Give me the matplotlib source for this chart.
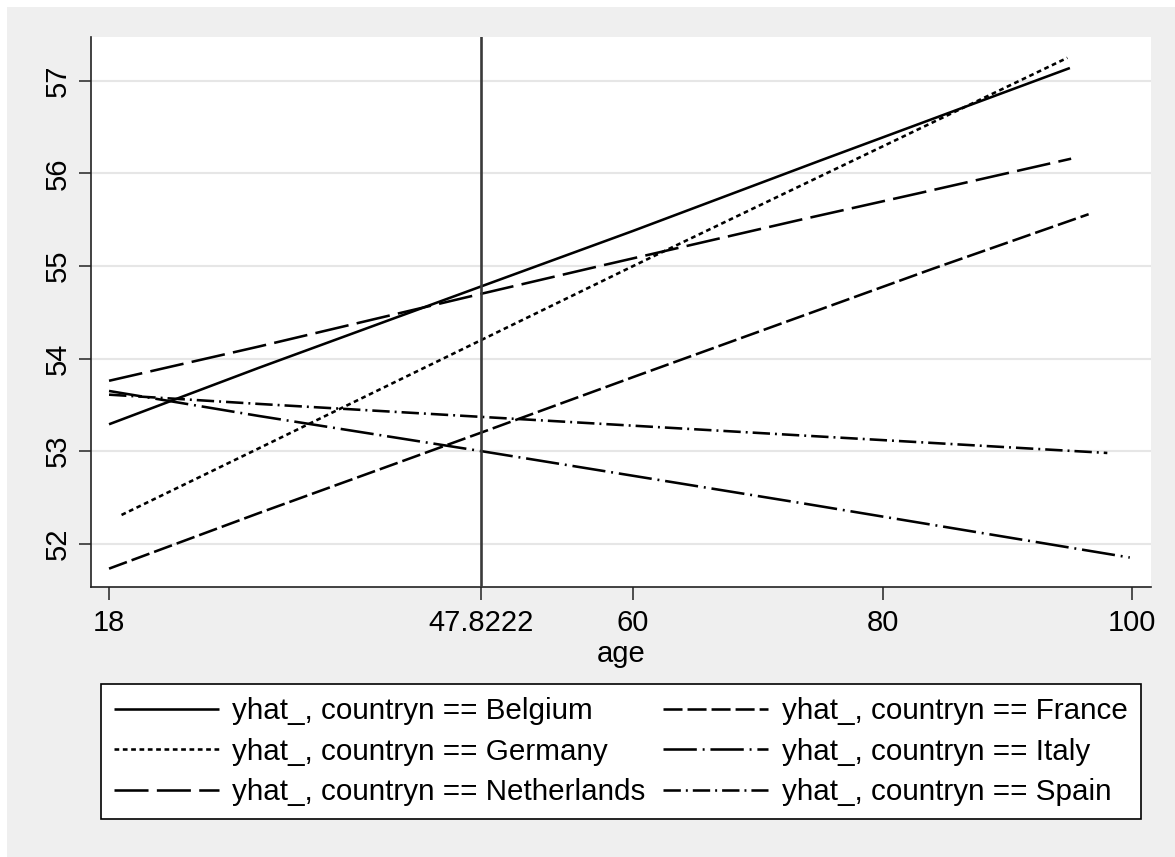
import matplotlib
matplotlib.use("Agg")
import matplotlib.pyplot as plt
from matplotlib.patches import Rectangle

plt.rcParams["font.family"] = ["Liberation Sans", "DejaVu Sans"]
plt.rcParams["lines.scale_dashes"] = False

# valeurs (yhat_ par pays selon l'âge)
countries = ["Belgium", "France", "Germany", "Italy", "Netherlands", "Spain"]

age_belgium = [18, 30, 47.8222, 60, 75, 95]
yhat_belgium = [53.29, 53.90, 54.78, 55.38, 56.14, 57.14]

age_france = [18, 30, 47.8222, 60, 84, 96.5]
yhat_france = [51.73, 52.33, 53.20, 53.80, 54.97, 55.56]

age_germany = [19, 30, 47.8222, 60, 75, 94.8]
yhat_germany = [52.31, 53.03, 54.20, 55.00, 55.97, 57.25]

age_italy = [18, 30, 45, 47.8222, 73.4, 99.8]
yhat_italy = [53.65, 53.38, 53.06, 53.00, 52.44, 51.85]

age_netherlands = [18, 30, 47.8222, 57, 73.4, 83, 95.1]
yhat_netherlands = [53.76, 54.13, 54.70, 54.99, 55.50, 55.79, 56.16]

age_spain = [18, 30, 47.8222, 73.4, 98]
yhat_spain = [53.61, 53.51, 53.37, 53.17, 52.98]

mean_age = 47.8222
xticks = [18, 47.8222, 60, 80, 100]
xtick_labels = ["18", "47.8222", "60", "80", "100"]
yticks = [52, 53, 54, 55, 56, 57]

series = [
    (age_belgium, yhat_belgium, "-"),
    (age_france, yhat_france, (0, (13.7, 3.6))),
    (age_germany, yhat_germany, (0, (3.4, 2.6))),
    (age_italy, yhat_italy, (0, (24, 4.2, 1.4, 4.2))),
    (age_netherlands, yhat_netherlands, (0, (24.5, 6))),
    (age_spain, yhat_spain, (0, (12.5, 3.6, 1.4, 3.6))),
]

fig = plt.figure(figsize=(11.75, 8.57), dpi=100, facecolor="white")
fig.patches.append(Rectangle((7 / 1175, 0), 1, 1 - 7 / 857, transform=fig.transFigure,
                             facecolor="#efefef", edgecolor="none", zorder=-10))

ax = fig.add_axes([90.7 / 1175, 1 - 586.5 / 857, (1151 - 90.7) / 1175, (586.5 - 37) / 857])
ax.set_facecolor("white")

for y in yticks:
    ax.axhline(y, color="#e6e6e6", linewidth=1.5, zorder=0)

handles = []
for (ages, vals, ls), name in zip(series, countries):
    h, = ax.plot(ages, vals, color="black", linewidth=1.85, linestyle=ls,
                 solid_capstyle="butt", dash_capstyle="butt",
                 label=f"yhat_, countryn == {name}")
    handles.append(h)

ax.axvline(mean_age, color="#3a3a3a", linewidth=1.9, zorder=3)

ax.set_xlim(16.53, 101.5)
ax.set_ylim(51.537, 57.475)
ax.set_xticks(xticks)
ax.set_xticklabels(xtick_labels)
ax.set_yticks(yticks)
ax.set_yticklabels([str(v) for v in yticks], rotation=90, va="center")
ax.tick_params(axis="both", labelsize=21, length=9, width=1.1, color="#222222")
ax.tick_params(axis="x", pad=7.5)
ax.tick_params(axis="y", pad=4.5)
ax.set_xlabel("age", fontsize=21, labelpad=1.5)

for side in ["top", "right"]:
    ax.spines[side].set_visible(False)
for side in ["left", "bottom"]:
    ax.spines[side].set_linewidth(1.2)
    ax.spines[side].set_color("#222222")

# légende remplie ligne par ligne comme dans Stata
order = [0, 2, 4, 1, 3, 5]
leg = fig.legend(handles=[handles[i] for i in order], ncol=2, loc="upper left",
                 bbox_to_anchor=(100.7 / 1175, 1 - 684 / 857), borderaxespad=0,
                 fontsize=21.3, handlelength=3.55, handletextpad=0.45,
                 columnspacing=0.6, borderpad=0.45, labelspacing=0.42,
                 frameon=True, fancybox=False, framealpha=1)
leg.get_frame().set_edgecolor("black")
leg.get_frame().set_linewidth(1.2)

fig.savefig("out.png", dpi=100, facecolor=fig.get_facecolor())
